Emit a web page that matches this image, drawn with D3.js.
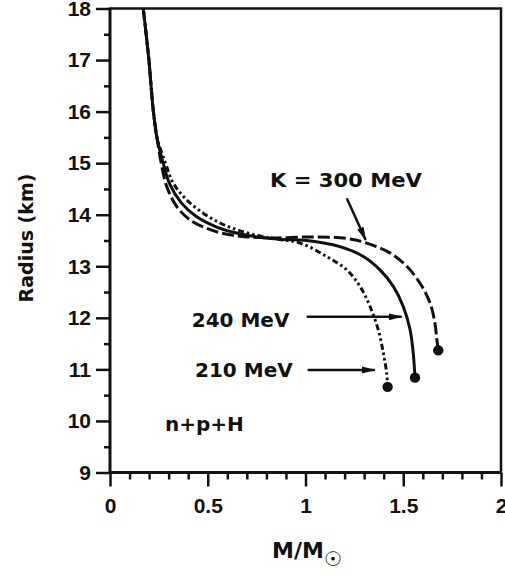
<!DOCTYPE html>
<html><head><meta charset="utf-8">
<script src="https://cdn.jsdelivr.net/npm/d3@7"></script>
<style>body{margin:0;background:#fff}svg{display:block}</style>
</head><body>
<svg id="c" width="505" height="575"></svg>
<script>
// ---- data ----
const xMajor = [0, 0.5, 1, 1.5, 2];
const xTickLabels = ["0", "0.5", "1", "1.5", "2"];
const xMinor = [0.1,0.2,0.3,0.4,0.6,0.7,0.8,0.9,1.1,1.2,1.3,1.4,1.6,1.7,1.8,1.9];
const yMajor = [9,10,11,12,13,14,15,16,17,18];
const yTickLabels = ["9","10","11","12","13","14","15","16","17","18"];
const yMinor = [9.5,10.5,11.5,12.5,13.5,14.5,15.5,16.5,17.5];

// K = 300 MeV (dashed)
const mass300 = [0.170,0.185,0.199,0.222,0.240,0.262,0.290,0.341,0.409,0.512,0.614,0.700,0.850,1.040,1.211,1.313,1.432,1.518,1.586,1.637,1.662,1.671,1.679];
const rad300  = [18,17.5,17,16,15.5,15.0,14.55,14.16,13.90,13.71,13.61,13.57,13.55,13.57,13.54,13.45,13.26,13.00,12.67,12.29,11.90,11.61,11.37];
// K = 240 MeV (solid)
const mass240 = [0.170,0.185,0.199,0.222,0.240,0.272,0.305,0.365,0.440,0.540,0.630,0.750,0.880,1.006,1.176,1.296,1.381,1.449,1.500,1.535,1.551,1.560];
const rad240  = [18,17.5,17,16,15.5,15.0,14.6,14.23,13.97,13.77,13.66,13.57,13.52,13.50,13.38,13.19,12.93,12.61,12.22,11.77,11.32,10.84];
// K = 210 MeV (dash-dot)
const mass210 = [0.170,0.185,0.199,0.222,0.240,0.284,0.324,0.392,0.477,0.563,0.648,0.750,0.850,0.972,1.108,1.211,1.279,1.330,1.372,1.398,1.415,1.420];
const rad210  = [18,17.5,17,16,15.5,15.0,14.61,14.29,14.03,13.84,13.71,13.60,13.53,13.45,13.19,12.93,12.61,12.22,11.77,11.32,10.93,10.66];

const labelTexts = ["K = 300 MeV", "240 MeV", "210 MeV", "n+p+H"];
const labelM = [0.818, 0.418, 0.435, 0.281];
const labelR = [14.54, 11.83, 10.86, 9.81];
const arrowFromM = [1.211, 1.006, 1.011];
const arrowFromR = [14.32, 12.02, 10.99];
const arrowToM   = [1.308, 1.492, 1.355];
const arrowToR   = [13.51, 12.02, 10.99];

// ---- drawing ----
const svg = d3.select("#c");
const x = d3.scaleLinear().domain([0, 2]).range([110, 501]);
const y = d3.scaleLinear().domain([9, 18]).range([472.5, 8.5]);
const ink = "#111";
const tickFont = "'Liberation Sans', Arial, sans-serif";
const labFont = "'DejaVu Sans', sans-serif";

const defs = svg.append("defs");
defs.append("clipPath").attr("id","clip")
  .append("rect").attr("x", x(0)).attr("y", y(18)).attr("width", x(2)-x(0)).attr("height", y(9)-y(18));
defs.append("marker").attr("id","arr")
  .attr("markerUnits","userSpaceOnUse").attr("markerWidth",16).attr("markerHeight",10)
  .attr("viewBox","0 -5 16 10").attr("refX",13).attr("refY",0).attr("orient","auto")
  .append("path").attr("d","M0,-3.5L14,0L0,3.5Z").attr("fill",ink);

// axes
const gy = svg.append("g").attr("transform", `translate(${x(0)},0)`)
  .call(d3.axisLeft(y).tickValues(yMajor).tickSize(14).tickPadding(5)
    .tickFormat((d,i)=>yTickLabels[i]));
const gyMin = svg.append("g").attr("transform", `translate(${x(0)},0)`)
  .call(d3.axisLeft(y).tickValues(yMinor).tickSize(6).tickFormat(""));
const gx = svg.append("g").attr("transform", `translate(0,${y(9)})`)
  .call(d3.axisBottom(x).tickValues(xMajor).tickSize(14).tickPadding(12)
    .tickFormat((d,i)=>xTickLabels[i]));
const gxMin = svg.append("g").attr("transform", `translate(0,${y(9)})`)
  .call(d3.axisBottom(x).tickValues(xMinor).tickSize(7).tickFormat(""));
[gy, gyMin, gx, gxMin].forEach(g => {
  g.select(".domain").remove();
  g.selectAll("line").attr("stroke", ink).attr("stroke-width", 2.5);
  g.selectAll("text").attr("fill", ink).attr("font-family", tickFont)
    .attr("font-weight", "bold").attr("font-size", 21);
});

// frame
svg.append("path").attr("d", `M${x(0)},${y(18)}H${x(2)}V${y(9)}`)
  .attr("fill","none").attr("stroke",ink).attr("stroke-width",2.5);
svg.append("path").attr("d", `M${x(0)},${y(18)-1}V${y(9)}H${x(2)}`)
  .attr("fill","none").attr("stroke",ink).attr("stroke-width",3);

// curves
const line = d3.line().x(d=>x(d[0])).y(d=>y(d[1])).curve(d3.curveCatmullRom.alpha(0.5));
const series = [
  {m: mass300, r: rad300, dash: "12,4"},
  {m: mass240, r: rad240, dash: null},
  {m: mass210, r: rad210, dash: "6,3,2.5,3,2.5,3"}
];
const gc = svg.append("g").attr("clip-path","url(#clip)");
series.forEach(s => {
  const pts = s.m.map((m,i)=>[m, s.r[i]]);
  gc.append("path").attr("d", line(pts)).attr("fill","none")
    .attr("stroke", ink).attr("stroke-width", 3)
    .attr("stroke-dasharray", s.dash);
  const last = pts[pts.length-1];
  svg.append("circle").attr("cx", x(last[0])).attr("cy", y(last[1])).attr("r", 5.2).attr("fill", ink);
});

// arrows
arrowFromM.forEach((m,i)=>{
  svg.append("line").attr("x1", x(m)).attr("y1", y(arrowFromR[i]))
    .attr("x2", x(arrowToM[i])).attr("y2", y(arrowToR[i]))
    .attr("stroke", ink).attr("stroke-width", 2.5).attr("marker-end","url(#arr)");
});

// labels
labelTexts.forEach((t,i)=>{
  const tx = svg.append("text").attr("x", x(labelM[i])).attr("y", y(labelR[i]))
    .attr("font-family", labFont).attr("font-weight","bold").attr("font-size", 20)
    .attr("fill", ink).text(t);
  if (i === 0) tx.attr("textLength", 152).attr("lengthAdjust","spacingAndGlyphs");
});

// axis titles
svg.append("text").attr("transform","translate(33,238) rotate(-90)")
  .attr("text-anchor","middle").attr("font-family", labFont).attr("font-weight","bold")
  .attr("font-size", 19).attr("fill", ink).text("Radius (km)");
const xt = svg.append("text").attr("x", 272).attr("y", 558)
  .attr("font-family", labFont).attr("font-weight","bold").attr("font-size", 22).attr("fill", ink);
xt.append("tspan").text("M/M");
xt.append("tspan").attr("dy", 8).attr("font-size", 20).attr("font-weight","normal").text("☉");
</script>
</body></html>
